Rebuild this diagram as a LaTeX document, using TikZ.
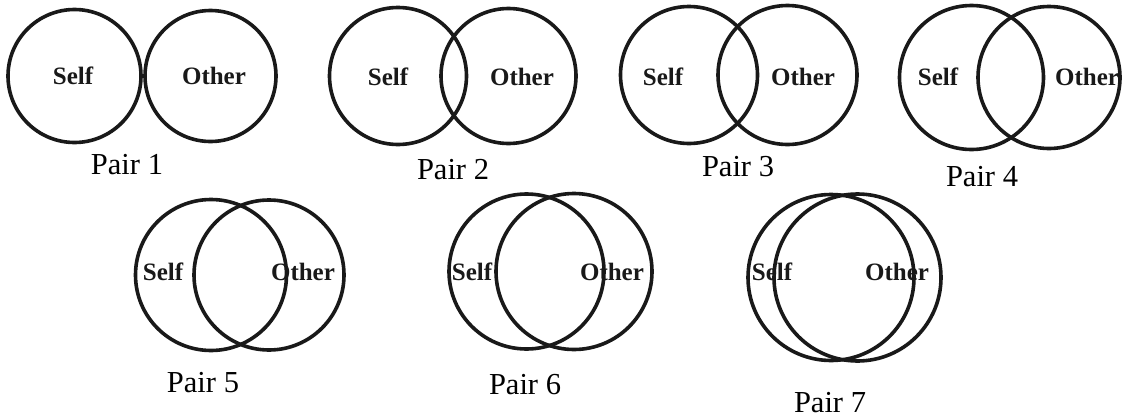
\documentclass[tikz,border=0pt]{standalone}
\usepackage{fontspec}
\setmainfont{Liberation Serif}
\usetikzlibrary{positioning}

\begin{document}
\begin{tikzpicture}[x=1pt, y=-1pt,
  ring/.style={circle, draw=black!90, line width=3.6pt, minimum size=#1, inner sep=0pt},
  who/.style={font=\fontsize{25}{26}\selectfont\bfseries, text=black!90},
  pairname/.style={font=\fontsize{30.5}{32}\selectfont}]
  \useasboundingbox (0,0) rectangle (1122,418);

  % Top row
  \node[who] (lself1) at (73,76) {Self};
  \node[who] (lother1) at (214,76) {Other};
  \node[ring=133pt] (self1) at (74.5,76) {};
  \node[ring=131pt] (other1) at (210.5,76) {};
  \node[pairname] (pair1) at (127,165) {Pair 1};

  \node[who] (lself2) at (388,77) {Self};
  \node[who] (lother2) at (522,77) {Other};
  \node[ring=137pt] (self2) at (398,76) {};
  \node[ring=135pt] (other2) at (508.5,76) {};
  \node[pairname] (pair2) at (453,170) {Pair 2};

  \node[who] (lself3) at (663,77) {Self};
  \node[who] (lother3) at (803,77) {Other};
  \node[ring=137pt] (self3) at (689,75) {};
  \node[ring=139pt] (other3) at (787.5,75) {};
  \node[pairname] (pair3) at (738,167) {Pair 3};

  \node[who] (lself4) at (938,77) {Self};
  \node[who] (lother4) at (1087,77) {Other};
  \node[ring=144pt] (self4) at (971.5,77.5) {};
  \node[ring=142pt] (other4) at (1049,77.5) {};
  \node[pairname] (pair4) at (982,177) {Pair 4};

  % Bottom row
  \node[who] (lself5) at (163,272) {Self};
  \node[who] (lother5) at (303,272) {Other};
  \node[ring=151pt] (self5) at (211,275) {};
  \node[ring=150pt] (other5) at (269,275) {};
  \node[pairname] (pair5) at (203,383) {Pair 5};

  \node[who] (lself6) at (472,272) {Self};
  \node[who] (lother6) at (612,272) {Other};
  \node[ring=155pt] (self6) at (526.5,271.5) {};
  \node[ring=156pt] (other6) at (574,271.5) {};
  \node[pairname] (pair6) at (525,385) {Pair 6};

  \node[who] (lself7) at (772,272) {Self};
  \node[who] (lother7) at (897,272) {Other};
  \node[ring=166pt] (self7) at (831,277.5) {};
  \node[ring=167pt] (other7) at (857.5,277.5) {};
  \node[pairname] (pair7) at (830,403) {Pair 7};
\end{tikzpicture}
\end{document}
